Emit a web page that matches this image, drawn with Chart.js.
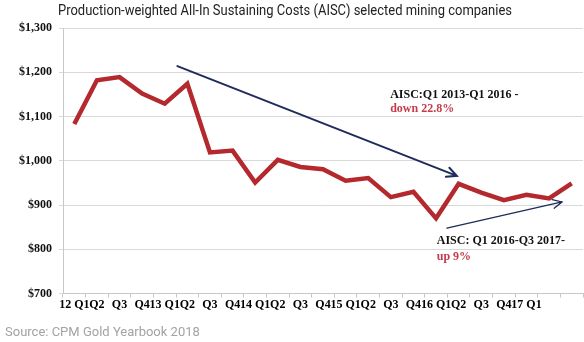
<!DOCTYPE html>
<html>
<head>
<meta charset="utf-8">
<script src="https://cdn.jsdelivr.net/npm/chart.js@4.4.0/dist/chart.umd.min.js"></script>
<style>
  html, body { margin: 0; padding: 0; background: #fff; }
  #wrap { width: 584px; height: 342px; position: relative; }
</style>
</head>
<body>
<div id="wrap"><canvas id="aiscChart"></canvas></div>
<script>
'use strict'

// quarterly AISC, Q1 2012 - Q3 2017 (US$/oz)
const quarters = ['12 Q1', 'Q2', 'Q3', 'Q4', '13 Q1', 'Q2', 'Q3', 'Q4', '14 Q1', 'Q2', 'Q3', 'Q4',
    '15 Q1', 'Q2', 'Q3', 'Q4', '16 Q1', 'Q2', 'Q3', 'Q4', '17 Q1', '', ''];
const aisc = [1083, 1182, 1189, 1152, 1129, 1174, 1019, 1023, 951, 1002, 986, 981,
    955, 961, 918, 930, 870, 948, 928, 911, 923, 915, 949];
const yTicks = [700, 800, 900, 1000, 1100, 1200, 1300];

const chartTitle = 'Production-weighted All-In Sustaining Costs (AISC) selected mining companies';
const sourceText = 'Source: CPM Gold Yearbook 2018';

// trend arrows: [fromIndex, fromValue, toIndex, toValue]
const downArrow = [4.56, 1214, 16.92, 966];
const upArrow = [16.48, 848, 21.57, 907];

const navy = '#1f2b5b';
const red = '#b3292e';
const serifBold = 'bold 12px "Liberation Serif", "Times New Roman", serif';

function arrow(ctx, x1, y1, x2, y2, width, head) {
    const a = Math.atan2(y2 - y1, x2 - x1);
    ctx.save();
    ctx.strokeStyle = navy;
    ctx.lineWidth = width;
    ctx.lineCap = 'round';
    ctx.beginPath();
    ctx.moveTo(x1, y1);
    ctx.lineTo(x2, y2);
    ctx.moveTo(x2 - head * Math.cos(a - 0.45), y2 - head * Math.sin(a - 0.45));
    ctx.lineTo(x2, y2);
    ctx.lineTo(x2 - head * Math.cos(a + 0.45), y2 - head * Math.sin(a + 0.45));
    ctx.stroke();
    ctx.restore();
}

const extras = {
    id: 'extras',
    afterDraw(chart) {
        const ctx = chart.ctx;
        const x = chart.scales.x;
        const y = chart.scales.y;

        // title, squeezed to a condensed look
        ctx.save();
        ctx.font = '14px Roboto, sans-serif';
        ctx.fillStyle = '#222';
        ctx.textBaseline = 'middle';
        const w = ctx.measureText(chartTitle).width;
        const sx = 454 / w;
        ctx.translate(58, 11);
        ctx.scale(sx, 1);
        ctx.fillText(chartTitle, 0, 0);
        ctx.restore();

        // source line
        ctx.save();
        ctx.font = '13px Roboto, sans-serif';
        ctx.fillStyle = '#a3a3a3';
        ctx.textBaseline = 'middle';
        ctx.fillText(sourceText, 5, 333);
        ctx.restore();

        arrow(ctx, x.getPixelForValue(downArrow[0]), y.getPixelForValue(downArrow[1]),
            x.getPixelForValue(downArrow[2]), y.getPixelForValue(downArrow[3]), 2, 11);
        arrow(ctx, x.getPixelForValue(upArrow[0]), y.getPixelForValue(upArrow[1]),
            x.getPixelForValue(upArrow[2]), y.getPixelForValue(upArrow[3]), 1.3, 10);

        // arrow notes
        ctx.save();
        ctx.font = serifBold;
        ctx.textBaseline = 'middle';
        ctx.fillStyle = '#111';
        ctx.fillText('AISC:Q1 2013-Q1 2016 -', x.getPixelForValue(13.97), y.getPixelForValue(1148));
        ctx.fillText('AISC: Q1 2016-Q3 2017-', x.getPixelForValue(16.03), y.getPixelForValue(818));
        ctx.fillStyle = '#c43c4a';
        ctx.fillText('down 22.8%', x.getPixelForValue(13.97), y.getPixelForValue(1118));
        ctx.fillText('up 9%', x.getPixelForValue(16.03), y.getPixelForValue(782));
        ctx.restore();
    }
};

const ctx = document.getElementById('aiscChart').getContext('2d');
const aiscChart = new Chart(ctx, {
    type: 'line',
    data: {
        labels: quarters,
        datasets: [{
            label: 'AISC',
            data: aisc,
            borderColor: red,
            borderWidth: 4.5,
            pointRadius: 0,
            tension: 0,
            fill: false
        }]
    },
    options: {
        responsive: true,
        maintainAspectRatio: false,
        animation: false,
        layout: { padding: { top: 28, left: 5, right: 1, bottom: 30 } },
        plugins: {
            legend: { display: false },
            tooltip: { enabled: false }
        },
        scales: {
            x: {
                offset: true,
                grid: {
                    offset: true,
                    drawOnChartArea: false,
                    tickLength: 4,
                    color: '#c8c8c8'
                },
                border: { color: '#c8c8c8' },
                ticks: {
                    autoSkip: false,
                    maxRotation: 0,
                    padding: 0,
                    color: '#000',
                    font: { family: '"Liberation Serif", serif', size: 12, weight: 'bold' }
                }
            },
            y: {
                min: 700,
                max: 1300,
                afterBuildTicks(scale) {
                    scale.ticks = yTicks.map(v => ({ value: v }));
                },
                afterFit(scale) {
                    scale.width = 58;
                },
                grid: { color: '#d9d9d9', tickLength: 4 },
                border: { color: '#c8c8c8' },
                ticks: {
                    padding: 7,
                    color: '#111',
                    font: { family: '"Liberation Serif", serif', size: 12, weight: 'bold' },
                    callback: v => '$' + v.toLocaleString('en-US')
                }
            }
        }
    },
    plugins: [extras]
});
</script>
</body>
</html>
